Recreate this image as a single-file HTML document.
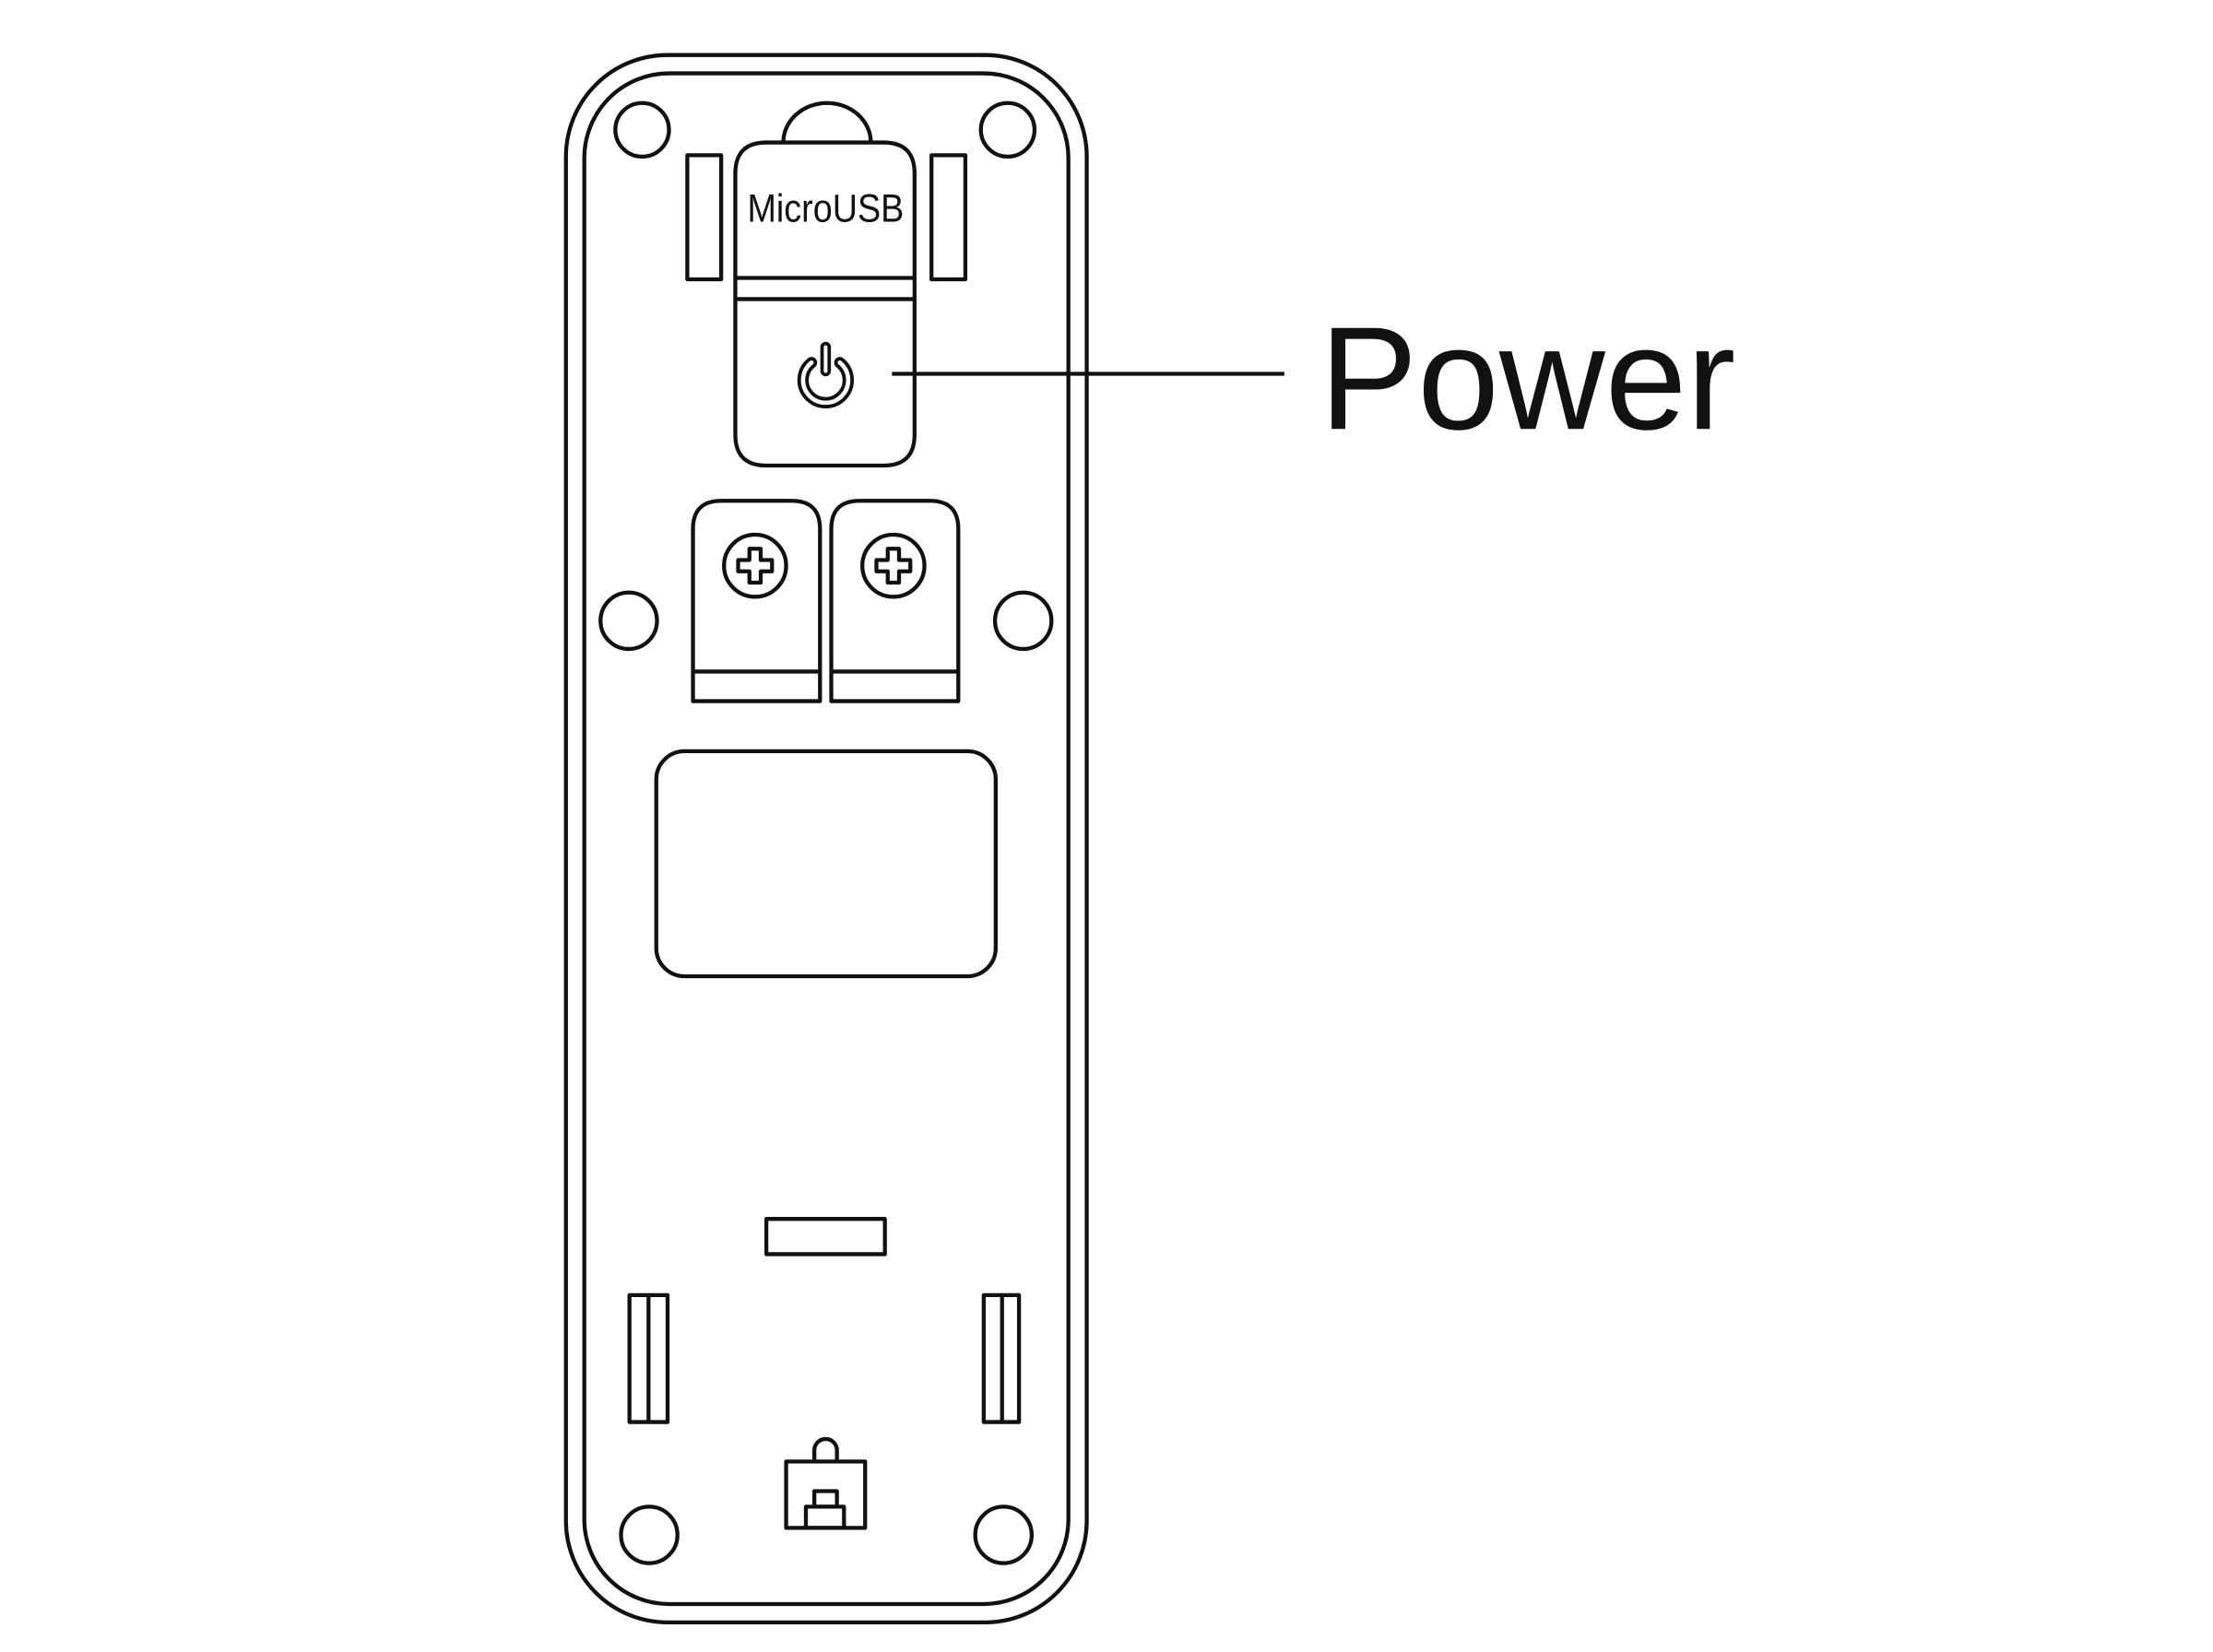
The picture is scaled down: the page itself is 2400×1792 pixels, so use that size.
<!DOCTYPE html>
<html><head><meta charset="utf-8"><style>
html,body{margin:0;padding:0;background:#fff;}
svg{display:block;}
</style></head><body>
<svg width="2400" height="1792" viewBox="0 0 1568 1171" preserveAspectRatio="none" xmlns="http://www.w3.org/2000/svg">
<rect width="1568" height="1171" fill="#fff"/>
<g fill="none" stroke="#111" stroke-width="2.8" stroke-linejoin="round">
<rect x="401" y="39" width="369" height="1111" rx="72"/>
<rect x="414" y="52" width="343" height="1085" rx="60"/>
<circle cx="455" cy="92" r="19"/>
<circle cx="714" cy="92" r="19"/>
<path d="M555 101 A31 28 0 0 1 617 101"/>
<rect x="487" y="110" width="24" height="88"/>
<rect x="660" y="110" width="24" height="88"/>
<path d="M521 123 Q521 101 543 101 L626 101 Q648 101 648 123 L648 308 Q648 330 626 330 L543 330 Q521 330 521 308 Z"/>
<line x1="521" y1="197" x2="648" y2="197"/>
<line x1="521" y1="212" x2="648" y2="212"/>
<line x1="632" y1="265" x2="910" y2="265"/>
<path d="M491 497 L491 375 Q491 355 511 355 L561 355 Q581 355 581 375 L581 497 Z"/>
<line x1="491" y1="476" x2="581" y2="476"/>
<path d="M589 497 L589 375 Q589 355 609 355 L659 355 Q679 355 679 375 L679 497 Z"/>
<line x1="589" y1="476" x2="679" y2="476"/>
<circle cx="535" cy="401" r="22"/>
<circle cx="633" cy="401" r="22"/>
<path d="M531 389 h8 v8 h8 v8 h-8 v8 h-8 v-8 h-8 v-8 h8 z"/>
<path d="M629 389 h8 v8 h8 v8 h-8 v8 h-8 v-8 h-8 v-8 h8 z"/>
<circle cx="445.5" cy="440" r="20"/>
<circle cx="725" cy="440" r="20"/>
<rect x="465" y="532.5" width="240.5" height="159.5" rx="20"/>
<rect x="543" y="864" width="84" height="25"/>
<rect x="446" y="918" width="27" height="90"/>
<line x1="459.5" y1="918" x2="459.5" y2="1008"/>
<rect x="697" y="918" width="25" height="90"/>
<line x1="710" y1="918" x2="710" y2="1008"/>
<circle cx="460" cy="1088" r="20"/>
<circle cx="711" cy="1088" r="20"/>
<rect x="557" y="1036" width="56" height="47"/>
<path d="M577 1036 L577 1028 A8 8 0 0 1 593 1028 L593 1036"/>
<rect x="577" y="1057" width="16" height="11"/>
<rect x="571" y="1068" width="27" height="15"/>
</g>
<g fill="none" stroke-linecap="round">
<path d="M575 257 A16 16 0 1 0 595 257" stroke="#111" stroke-width="8"/>
<path d="M575 257 A16 16 0 1 0 595 257" stroke="#fff" stroke-width="3"/>
<line x1="585" y1="246" x2="585" y2="263" stroke="#111" stroke-width="7.5"/>
<line x1="585" y1="246" x2="585" y2="263" stroke="#fff" stroke-width="2.6"/>
</g>
<text x="585" y="157" text-anchor="middle" font-family="Liberation Sans, sans-serif" font-size="28" fill="#111" textLength="111" lengthAdjust="spacingAndGlyphs">MicroUSB</text>
<text x="935" y="304" font-family="Liberation Sans, sans-serif" font-size="104" fill="#111">Power</text>
</svg>
</body></html>
